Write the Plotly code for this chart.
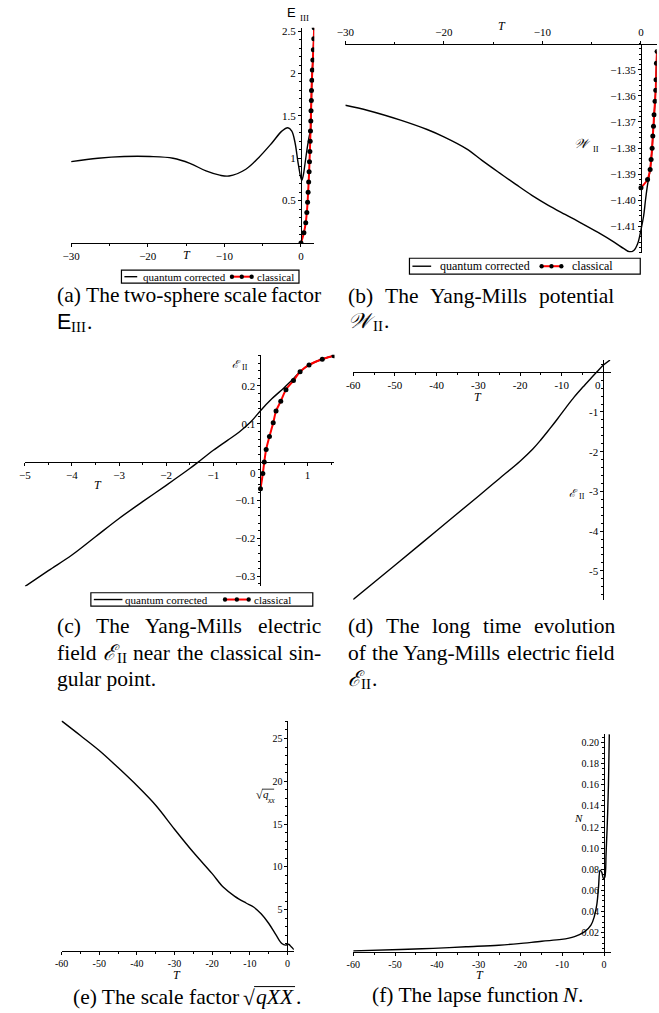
import plotly.graph_objects as go

# ---------------- data ----------------
# (a) two-sphere scale factor E_III
a_T_quantum = [-30, -26.5, -23.1, -19.7, -16.7, -14.5, -12.4, -10.6, -9.4, -7.2, -5.5, -3.8, -2.5,
               -1.72, -1.2, -0.77, -0.35, 0.09, 0.3, 0.5, 0.7, 0.9, 1.1, 1.24, 1.33, 1.42, 1.55, 1.67, 1.72]
a_E_quantum = [0.96, 1.0, 1.02, 1.02, 1.0, 0.94, 0.85, 0.80, 0.79, 0.87, 1.01, 1.18, 1.32,
               1.36, 1.32, 1.18, 0.93, 0.74, 0.80, 0.92, 1.05, 1.17, 1.27, 1.32, 1.56, 1.92, 2.16, 2.41, 2.54]
a_T_classical = [0.0, 0.38, 0.62, 0.76, 0.86, 0.93, 1.0, 1.06, 1.11, 1.16, 1.2, 1.24, 1.28, 1.31,
                 1.35, 1.37, 1.42, 1.48, 1.55, 1.61, 1.67, 1.72]
a_E_classical = [0.0, 0.12, 0.24, 0.36, 0.48, 0.60, 0.72, 0.84, 0.96, 1.08, 1.20, 1.32, 1.44, 1.56,
                 1.68, 1.80, 1.92, 2.04, 2.16, 2.28, 2.41, 2.54]

# (b) Yang-Mills potential W_II
b_T_quantum = [-30, -27.7, -24.4, -21.7, -20, -17.7, -16.1, -14.4, -12.7, -11.07, -9.4, -7.7, -6.07,
               -4.4, -2.73, -1.73, -1.17, -0.73, -0.33, 0, 0.27, 0.47, 0.67, 0.93, 1.13, 1.27, 1.43,
               1.53, 1.63]
b_W_quantum = [-1.3636, -1.3656, -1.3693, -1.3729, -1.3757, -1.3803, -1.3848, -1.3894, -1.3939, -1.3981,
               -1.4019, -1.4054, -1.4087, -1.4122, -1.416, -1.4185, -1.4197, -1.4192, -1.4165, -1.4113,
               -1.406, -1.3996, -1.394, -1.3882, -1.3801, -1.3716, -1.3621, -1.3538, -1.343]
b_T_classical = [0, 0.67, 0.93, 1.03, 1.13, 1.2, 1.27, 1.33, 1.43, 1.5, 1.53, 1.57, 1.63]
b_W_classical = [-1.3952, -1.392, -1.3882, -1.3844, -1.3801, -1.3754, -1.3716, -1.3672, -1.3621,
                 -1.3579, -1.3538, -1.3475, -1.343]

# (c) Yang-Mills electric field near the classical singular point
c_T_quantum = [-5, -4.5, -4, -3.5, -3, -2.5, -2, -1.5, -1.32, -1.0, -0.7, -0.45, -0.21, 0, 0.24,
               0.49, 0.66, 0.84, 1.03, 1.31, 1.56]
c_E_quantum = [-0.327, -0.285, -0.244, -0.196, -0.148, -0.104, -0.061, -0.017, 0.0, 0.031, 0.057,
               0.079, 0.105, 0.135, 0.166, 0.194, 0.214, 0.237, 0.255, 0.27, 0.279]
c_T_classical = [0, 0.05, 0.08, 0.12, 0.19, 0.27, 0.33, 0.43, 0.54, 0.70, 0.84, 1.03, 1.31, 1.56]
c_E_classical = [-0.07, -0.03, 0.0, 0.033, 0.067, 0.103, 0.134, 0.16, 0.19, 0.214, 0.237, 0.255,
                 0.27, 0.279]

# (d) long time evolution of the electric field
d_T = [-60, -50, -40, -30, -25, -20, -17, -15, -13, -11, -9, -7, -5, -3, -1.5, 0, 1.6]
d_E = [-5.72, -4.86, -3.99, -3.12, -2.68, -2.24, -1.94, -1.70, -1.44, -1.17, -0.89, -0.62, -0.38,
       -0.15, 0.02, 0.18, 0.31]

# (e) scale factor sqrt(q_xx)
e_T = [-60, -55, -50, -45, -40, -35, -30, -25, -20, -17, -14, -11, -9, -7, -5, -3, -1.5, -0.5,
       0.3, 1.0, 1.7]
e_Q = [27.06, 25.35, 23.6, 21.6, 19.5, 17.2, 14.4, 11.7, 9.2, 7.6, 6.55, 5.77, 5.3, 4.5, 3.4, 2.0,
       1.03, 0.84, 0.95, 0.65, 0.33]

# (f) lapse function N
f_T = [-60, -48.7, -40.9, -33, -25.2, -20.4, -14.9, -10.2, -7.07, -4.7, -3.14, -2.35, -1.72, -1.33,
       -0.94, -0.54, -0.15, 0.17, 0.48, 0.79, 1.05, 1.25]
f_N = [0.0027, 0.004, 0.005, 0.0065, 0.008, 0.0095, 0.0118, 0.0135, 0.0162, 0.0206, 0.027, 0.035,
       0.047, 0.063, 0.079, 0.077, 0.071, 0.0725, 0.095, 0.126, 0.16, 0.208]

# tick values / labels
a_xticks, a_xtext = [-30, -20, -10, 0], ["−30", "−20", "−10", "0"]
a_yticks, a_ytext = [0.5, 1, 1.5, 2, 2.5], ["0.5", "1", "1.5", "2", "2.5"]
b_xticks, b_xtext = [-30, -20, -10, 0], ["−30", "−20", "−10", "0"]
b_yticks = [-1.35, -1.36, -1.37, -1.38, -1.39, -1.40, -1.41]
b_ytext = ["−1.35", "−1.36", "−1.37", "−1.38", "−1.39", "−1.40", "−1.41"]
c_xticks, c_xtext = [-5, -4, -3, -2, -1, 1], ["−5", "−4", "−3", "−2", "−1", "1"]
c_yticks, c_ytext = [0.2, 0.1, -0.1, -0.2, -0.3], ["0.2", "0.1", "−0.1", "−0.2", "−0.3"]
d_xticks, d_xtext = [-60, -50, -40, -30, -20, -10], ["-60", "-50", "-40", "-30", "-20", "-10"]
d_yticks, d_ytext = [-1, -2, -3, -4, -5], ["-1", "-2", "-3", "-4", "-5"]
e_xticks = [-60, -50, -40, -30, -20, -10, 0]
e_xtext = ["-60", "-50", "-40", "-30", "-20", "-10", "0"]
e_yticks, e_ytext = [5, 10, 15, 20, 25], ["5", "10", "15", "20", "25"]
f_xticks, f_xtext = e_xticks, e_xtext
f_yticks = [0.02, 0.04, 0.06, 0.08, 0.10, 0.12, 0.14, 0.16, 0.18, 0.20]
f_ytext = ["0.02", "0.04", "0.06", "0.08", "0.10", "0.12", "0.14", "0.16", "0.18", "0.20"]

# ---------------- layout helpers ----------------
FIG_W, FIG_H = 659, 1013
SERIF = "Liberation Serif, Times New Roman, Times, serif"
SANS = "Liberation Sans, Arial, sans-serif"
CAP = 21.5
SUB = 15


def px(x):
    return x / FIG_W


def py(y):
    return 1 - y / FIG_H


fig = go.Figure()
layout = dict(width=FIG_W, height=FIG_H, margin=dict(l=0, r=0, t=0, b=0),
              paper_bgcolor="white", plot_bgcolor="white", showlegend=False,
              font=dict(family=SERIF, color="black"))


def add_panel(i, xr, yr, box, xaxis_at, xside, xt, xtt, yt, ytt, xminor, yminor, fsize=11):
    left, right, top, bottom = box
    xs = "" if i == 1 else str(i)
    # pixel location of T = 0 and of the value 0 on the vertical axis
    x0_px = left + (0 - xr[0]) / (xr[1] - xr[0]) * (right - left)
    if xaxis_at == "bottom":
        xpos = py(bottom)
    elif xaxis_at == "top":
        xpos = py(top)
    else:
        xpos = py(top + (yr[1] - 0) / (yr[1] - yr[0]) * (bottom - top))
    tickfont = dict(family=SERIF, size=fsize, color="black")
    layout["xaxis" + xs] = dict(
        domain=[px(left), px(right)], range=xr, anchor="free", position=xpos, side=xside,
        showline=True, linecolor="black", linewidth=1, showgrid=False, zeroline=False,
        tickmode="array", tickvals=xt, ticktext=xtt, ticks="outside", ticklen=3,
        tickcolor="black", tickfont=tickfont, fixedrange=True,
        minor=dict(ticks="outside", ticklen=2, tickmode="linear", tick0=0, dtick=xminor,
                   tickcolor="black", showgrid=False))
    layout["yaxis" + xs] = dict(
        domain=[py(bottom), py(top)], range=yr, anchor="free", position=px(x0_px), side="left",
        showline=True, linecolor="black", linewidth=1, showgrid=False, zeroline=False,
        tickmode="array", tickvals=yt, ticktext=ytt, ticks="outside", ticklen=3,
        tickcolor="black", tickfont=tickfont, fixedrange=True,
        minor=dict(ticks="outside", ticklen=2, tickmode="linear", tick0=0, dtick=yminor,
                   tickcolor="black", showgrid=False))
    return "x" + xs, "y" + xs


def quantum(xa, ya, t, v):
    fig.add_trace(go.Scatter(x=t, y=v, mode="lines", xaxis=xa, yaxis=ya,
                             line=dict(color="black", width=1.4, shape="spline", smoothing=1.0),
                             hoverinfo="skip"))


def classical(xa, ya, t, v):
    fig.add_trace(go.Scatter(x=t, y=v, mode="lines+markers", xaxis=xa, yaxis=ya,
                             line=dict(color="#ff0000", width=2, shape="spline", smoothing=0.8),
                             marker=dict(color="black", size=5), hoverinfo="skip"))


# (a)
xa, ya = add_panel(1, [-30, 1.72], [0, 2.54], (63, 309.4, 24.8, 240.7), "bottom", "bottom",
                   a_xticks, a_xtext, a_yticks, a_ytext, 5, 0.1)
quantum(xa, ya, a_T_quantum, a_E_quantum)
classical(xa, ya, a_T_classical, a_E_classical)

# (b)
xa, ya = add_panel(2, [-30, 1.6], [-1.42, -1.34], (341, 656.7, 40.7, 250.3), "top", "top",
                   b_xticks, b_xtext, b_yticks, b_ytext, 5, 0.002)
quantum(xa, ya, b_T_quantum, b_W_quantum)
classical(xa, ya, b_T_classical, b_W_classical)

# (c)
xa, ya = add_panel(3, [-5, 1.57], [-0.326, 0.282], (16, 330, 352.7, 585), "zero", "bottom",
                   c_xticks, c_xtext, c_yticks, c_ytext, 0.5, 0.02)
quantum(xa, ya, c_T_quantum, c_E_quantum)
classical(xa, ya, c_T_classical, c_E_classical)

# (d)
xa, ya = add_panel(4, [-60, 1.7], [-5.74, 0.31], (349, 609.9, 358, 599), "zero", "bottom",
                   d_xticks, d_xtext, d_yticks, d_ytext, 5, 0.2)
quantum(xa, ya, d_T, d_E)

# (e)
xa, ya = add_panel(5, [-60, 1.7], [0.17, 27.1], (53.3, 288.8, 719.7, 950.7), "bottom", "bottom",
                   e_xticks, e_xtext, e_yticks, e_ytext, 5, 1, fsize=10)
quantum(xa, ya, e_T, e_Q)

# (f)
xa, ya = add_panel(6, [-60, 1.6], [0.0017, 0.208], (349, 610.1, 733.3, 951.7), "bottom", "bottom",
                   f_xticks, f_xtext, f_yticks, f_ytext, 5, 0.005, fsize=10)
quantum(xa, ya, f_T, f_N)

annotations = []
shapes = []


def label(x, y, text, size=11, family=SERIF, italic=False, xanchor="center", yanchor="middle"):
    annotations.append(dict(x=px(x), y=py(y), xref="paper", yref="paper", text=text,
                            showarrow=False, borderpad=0, xanchor=xanchor, yanchor=yanchor,
                            font=dict(family=family, size=size, color="black",
                                      style="italic" if italic else "normal")))


def hline(x0, x1, y, width=1.0):
    shapes.append(dict(type="line", xref="paper", yref="paper", x0=px(x0), x1=px(x1),
                       y0=py(y), y1=py(y), line=dict(color="black", width=width)))


# axis titles
label(286.5, 10, "E", size=13, family=SANS)
label(300, 15, "III", size=9)
label(180, 253, "T", size=12, italic=True)
label(500, 23, "T", size=12, italic=True)
label(581, 141, "𝒲", size=13, italic=True)
label(595.5, 146, "II", size=8.5)
label(90, 483, "T", size=12, italic=True)
label(231, 362, "ℰ", size=11, italic=True)
label(239, 366, "II", size=8)
label(247.7, 471.5, "0", size=11)
label(475, 395, "T", size=12, italic=True)
label(572.5, 491, "ℰ", size=11, italic=True)
label(580.5, 495, "II", size=8)
label(596.7, 383, "0", size=11)
label(170, 975, "T", size=12, italic=True)
label(253.5, 794.5, "√", size=12)
label(260.5, 793.5, "q", size=11, italic=True)
label(265.8, 799.5, "xx", size=7.5, italic=True)
hline(256.5, 268.8, 788.5, 0.8)
label(478, 975, "T", size=12, italic=True)
label(577, 817, "N", size=11, italic=True)


# legends
def legend_box(box, line_seg, q_text_x, red_seg, dots, c_text_x, yc, size):
    x0, y0, x1, y1 = box
    shapes.append(dict(type="rect", xref="paper", yref="paper", x0=px(x0), x1=px(x1),
                       y0=py(y1), y1=py(y0), line=dict(color="black", width=1.2)))
    hline(line_seg[0], line_seg[1], yc, 1.4)
    shapes.append(dict(type="line", xref="paper", yref="paper", x0=px(red_seg[0]),
                       x1=px(red_seg[1]), y0=py(yc), y1=py(yc),
                       line=dict(color="#ff0000", width=2)))
    for d in dots:
        shapes.append(dict(type="circle", xref="paper", yref="paper", x0=px(d - 2.2),
                           x1=px(d + 2.2), y0=py(yc + 2.2), y1=py(yc - 2.2),
                           fillcolor="black", line=dict(color="black", width=0)))
    label(q_text_x, yc, "quantum corrected", size=size, xanchor="left")
    label(c_text_x, yc, "classical", size=size, xanchor="left")


legend_box((114, 268, 294, 281), (117, 130), 135, (226, 246), (226, 236, 246), 250, 274.5, 11)
legend_box((406, 256, 640, 272), (409, 428), 436, (540, 560), (540, 550, 560), 570, 264, 12)
legend_box((83, 591.5, 308, 605), (86, 115), 117, (219, 243), (219, 231, 243), 247, 598.3, 11)

# captions (justified text columns)
TIMES_EM = {' ': 0.25, '(': 0.333, ')': 0.333, '-': 0.333, '.': 0.25, 'a': 0.444, 'b': 0.5,
            'c': 0.444, 'd': 0.5, 'e': 0.444, 'f': 0.333, 'g': 0.5, 'h': 0.5, 'i': 0.278,
            'l': 0.278, 'm': 0.778, 'n': 0.5, 'o': 0.5, 'p': 0.5, 'r': 0.333, 's': 0.389,
            't': 0.278, 'u': 0.5, 'v': 0.5, 'w': 0.722, 'y': 0.5, 'T': 0.611, 'Y': 0.722,
            'M': 0.889}


def text_em(s):
    return sum(TIMES_EM.get(ch, 0.5) for ch in s)


def symbol_II(x, yc, main, family=SERIF, italic=True, sub="II", main_w=0.62, dot=False):
    """Caption symbol with a roman subscript, drawn from its left edge x."""
    label(x, yc, main, size=CAP, family=family, italic=italic, xanchor="left")
    sx = x + main_w * CAP
    label(sx, yc + 5, sub, size=SUB, xanchor="left")
    if dot:
        label(sx + len(sub) * 0.333 * SUB + 1, yc, ".", size=CAP, xanchor="left")


def justified(words, x0, x1, yc, size=CAP):
    widths = [(1.05 if w == "<E_II>" else text_em(w)) * size for w in words]
    gap = (x1 - x0 - sum(widths)) / (len(words) - 1)
    x = x0
    for w, wd in zip(words, widths):
        if w == "<E_II>":
            symbol_II(x, yc, "ℰ")
        else:
            label(x, yc, w, size=size, xanchor="left")
        x += wd + gap


justified(["(a)", "The", "two-sphere", "scale", "factor"], 48, 315, 292.5)
symbol_II(48, 319.5, "E", family=SANS, italic=False, sub="III", main_w=0.667, dot=True)

justified(["(b)", "The", "Yang-Mills", "potential"], 343, 612, 293.5)
symbol_II(343, 319, "𝒲", main_w=1.15, dot=True)

justified(["(c)", "The", "Yang-Mills", "electric"], 48, 315, 625)
justified(["field", "<E_II>", "near", "the", "classical", "sin-"], 48, 315, 651.5)
label(48, 678.5, "gular point.", size=CAP, xanchor="left")

justified(["(d)", "The", "long", "time", "evolution"], 343, 612, 625)
justified(["of", "the", "Yang-Mills", "electric", "field"], 343, 612, 651.5)
symbol_II(343, 678.5, "ℰ", dot=True)

# (e) caption with a radical over qXX
label(64, 997, "(e) The scale factor", size=CAP, xanchor="left")
label(236.5, 998, "√", size=CAP, xanchor="left")
label(249.5, 997, "qXX", size=CAP, italic=True, xanchor="left")
label(290, 997, ".", size=CAP, xanchor="left")
hline(248.5, 290, 986.5, 1.0)

# (f) caption
label(367, 995, "(f) The lapse function", size=CAP, xanchor="left")
label(559.5, 995, "N", size=CAP, italic=True, xanchor="left")
label(576, 995, ".", size=CAP, xanchor="left")

layout["annotations"] = annotations
layout["shapes"] = shapes
fig.update_layout(**layout)
fig.write_html("out.html")
